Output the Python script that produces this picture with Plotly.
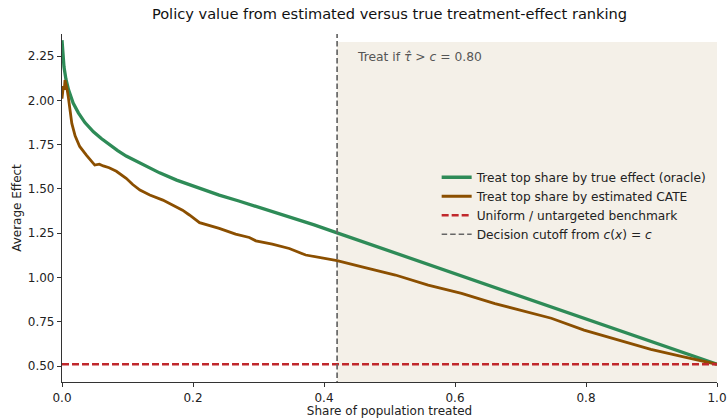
import plotly.graph_objects as go

# Oracle curve (treat top share by true effect)
oracle_x = [0.0, 0.001, 0.003, 0.006, 0.01, 0.017, 0.025, 0.035, 0.048, 0.06, 0.073, 0.085, 0.098,
            0.12, 0.149, 0.175, 0.21, 0.24, 0.27, 0.31, 0.347, 0.385, 0.42, 0.5, 0.6, 0.7, 0.8, 0.9, 1.0]
oracle_y = [2.34, 2.27, 2.19, 2.12, 2.06, 1.985, 1.93, 1.875, 1.823, 1.785, 1.748, 1.717, 1.686,
            1.645, 1.591, 1.55, 1.503, 1.465, 1.432, 1.386, 1.343, 1.297, 1.252, 1.15, 1.022, 0.895, 0.767, 0.638, 0.51]

# Estimated-CATE curve
cate_x = [0.0, 0.002, 0.0035, 0.0046, 0.006, 0.0075, 0.0096, 0.012, 0.015, 0.02, 0.027, 0.0375, 0.05,
          0.057, 0.063, 0.072, 0.083, 0.098, 0.108, 0.119, 0.134, 0.154, 0.17, 0.184, 0.1945, 0.21,
          0.24, 0.265, 0.286, 0.296, 0.321, 0.347, 0.372, 0.397, 0.42, 0.458, 0.509, 0.559, 0.61,
          0.661, 0.711, 0.747, 0.797, 0.848, 0.899, 0.949, 1.0]
cate_y = [2.01, 2.08, 2.06, 2.115, 2.09, 2.07, 2.02, 1.95, 1.87, 1.80, 1.74, 1.69, 1.635,
          1.64, 1.63, 1.62, 1.60, 1.56, 1.525, 1.494, 1.466, 1.437, 1.405, 1.38, 1.353, 1.31,
          1.277, 1.245, 1.226, 1.207, 1.189, 1.164, 1.127, 1.11, 1.095, 1.06, 1.014, 0.957, 0.91,
          0.853, 0.807, 0.77, 0.703, 0.647, 0.594, 0.552, 0.51]

uniform_value = 0.51
cutoff_share = 0.42
shade_top = 2.33
threshold = 0.80

x_ticks = [0.0, 0.2, 0.4, 0.6, 0.8, 1.0]
y_ticks = [0.50, 0.75, 1.00, 1.25, 1.50, 1.75, 2.00, 2.25]

GREEN = "#2e8b57"
BROWN = "#8b4f00"
RED = "#c0282c"
GRAY = "#666666"
SHADE = "#f4f0e8"
FONT = "DejaVu Sans"

L, R, T, B = 62, 11, 34, 36

fig = go.Figure()

fig.add_shape(type="rect", xref="x", yref="y", x0=cutoff_share, x1=1.0,
              y0=0.0, y1=shade_top, fillcolor=SHADE, line_width=0, layer="below")

fig.add_trace(go.Scatter(x=oracle_x, y=oracle_y, mode="lines",
                         line=dict(color=GREEN, width=3.3),
                         name="Treat top share by true effect (oracle)"))
fig.add_trace(go.Scatter(x=cate_x, y=cate_y, mode="lines",
                         line=dict(color=BROWN, width=2.8),
                         name="Treat top share by estimated CATE"))
fig.add_trace(go.Scatter(x=[0.0, 1.0], y=[uniform_value, uniform_value], mode="lines",
                         line=dict(color=RED, width=2.4, dash="7px,3px"),
                         name="Uniform / untargeted benchmark"))
fig.add_trace(go.Scatter(x=[cutoff_share, cutoff_share], y=[0.0, 3.0], mode="lines",
                         line=dict(color=GRAY, width=1.7, dash="5.5px,3px"),
                         name="Decision cutoff from <i>c</i>(<i>x</i>) = <i>c</i>"))

fig.add_annotation(x=cutoff_share, y=2.245, xref="x", yref="y", xanchor="left", yanchor="middle",
                   xshift=18, showarrow=False,
                   text="Treat if <i>\u03c4\u0302</i> > <i>c</i> = %.2f" % threshold,
                   font=dict(family=FONT, size=12.3, color="#555555"))

fig.update_layout(
    width=728, height=418,
    margin=dict(l=L, r=R, t=T, b=B),
    paper_bgcolor="white", plot_bgcolor="white",
    font=dict(family=FONT, size=12, color="#222222"),
    title=dict(text="Policy value from estimated versus true treatment-effect ranking",
               x=(L + (728 - R)) / 2 / 728, xanchor="center", y=1 - 14 / 418, yanchor="middle",
               font=dict(family=FONT, size=14.6, color="#111111")),
    showlegend=True,
    legend=dict(x=0.572, y=0.63, xanchor="left", yanchor="top",
                bgcolor="rgba(0,0,0,0)", borderwidth=0,
                font=dict(family=FONT, size=12.2, color="#222222"),
                tracegroupgap=0, itemwidth=30),
)

fig.update_xaxes(range=[0, 1], tickvals=x_ticks, ticktext=["%.1f" % v for v in x_ticks],
                 automargin=False, ticklabeloverflow="allow",
                 showgrid=False, zeroline=False, showline=True, linecolor="#333333", linewidth=1.2,
                 ticks="outside", ticklen=4, tickcolor="#333333",
                 title=dict(text="Share of population treated", standoff=4,
                            font=dict(family=FONT, size=12)))
fig.update_yaxes(range=[0.41, 2.375], tickvals=y_ticks, ticktext=["%.2f" % v for v in y_ticks],
                 automargin=False,
                 showgrid=False, zeroline=False, showline=True, linecolor="#333333", linewidth=1.2,
                 ticks="outside", ticklen=4, tickcolor="#333333",
                 title=dict(text="Average Effect", standoff=3,
                            font=dict(family=FONT, size=12)))

fig.write_html("out.html")
